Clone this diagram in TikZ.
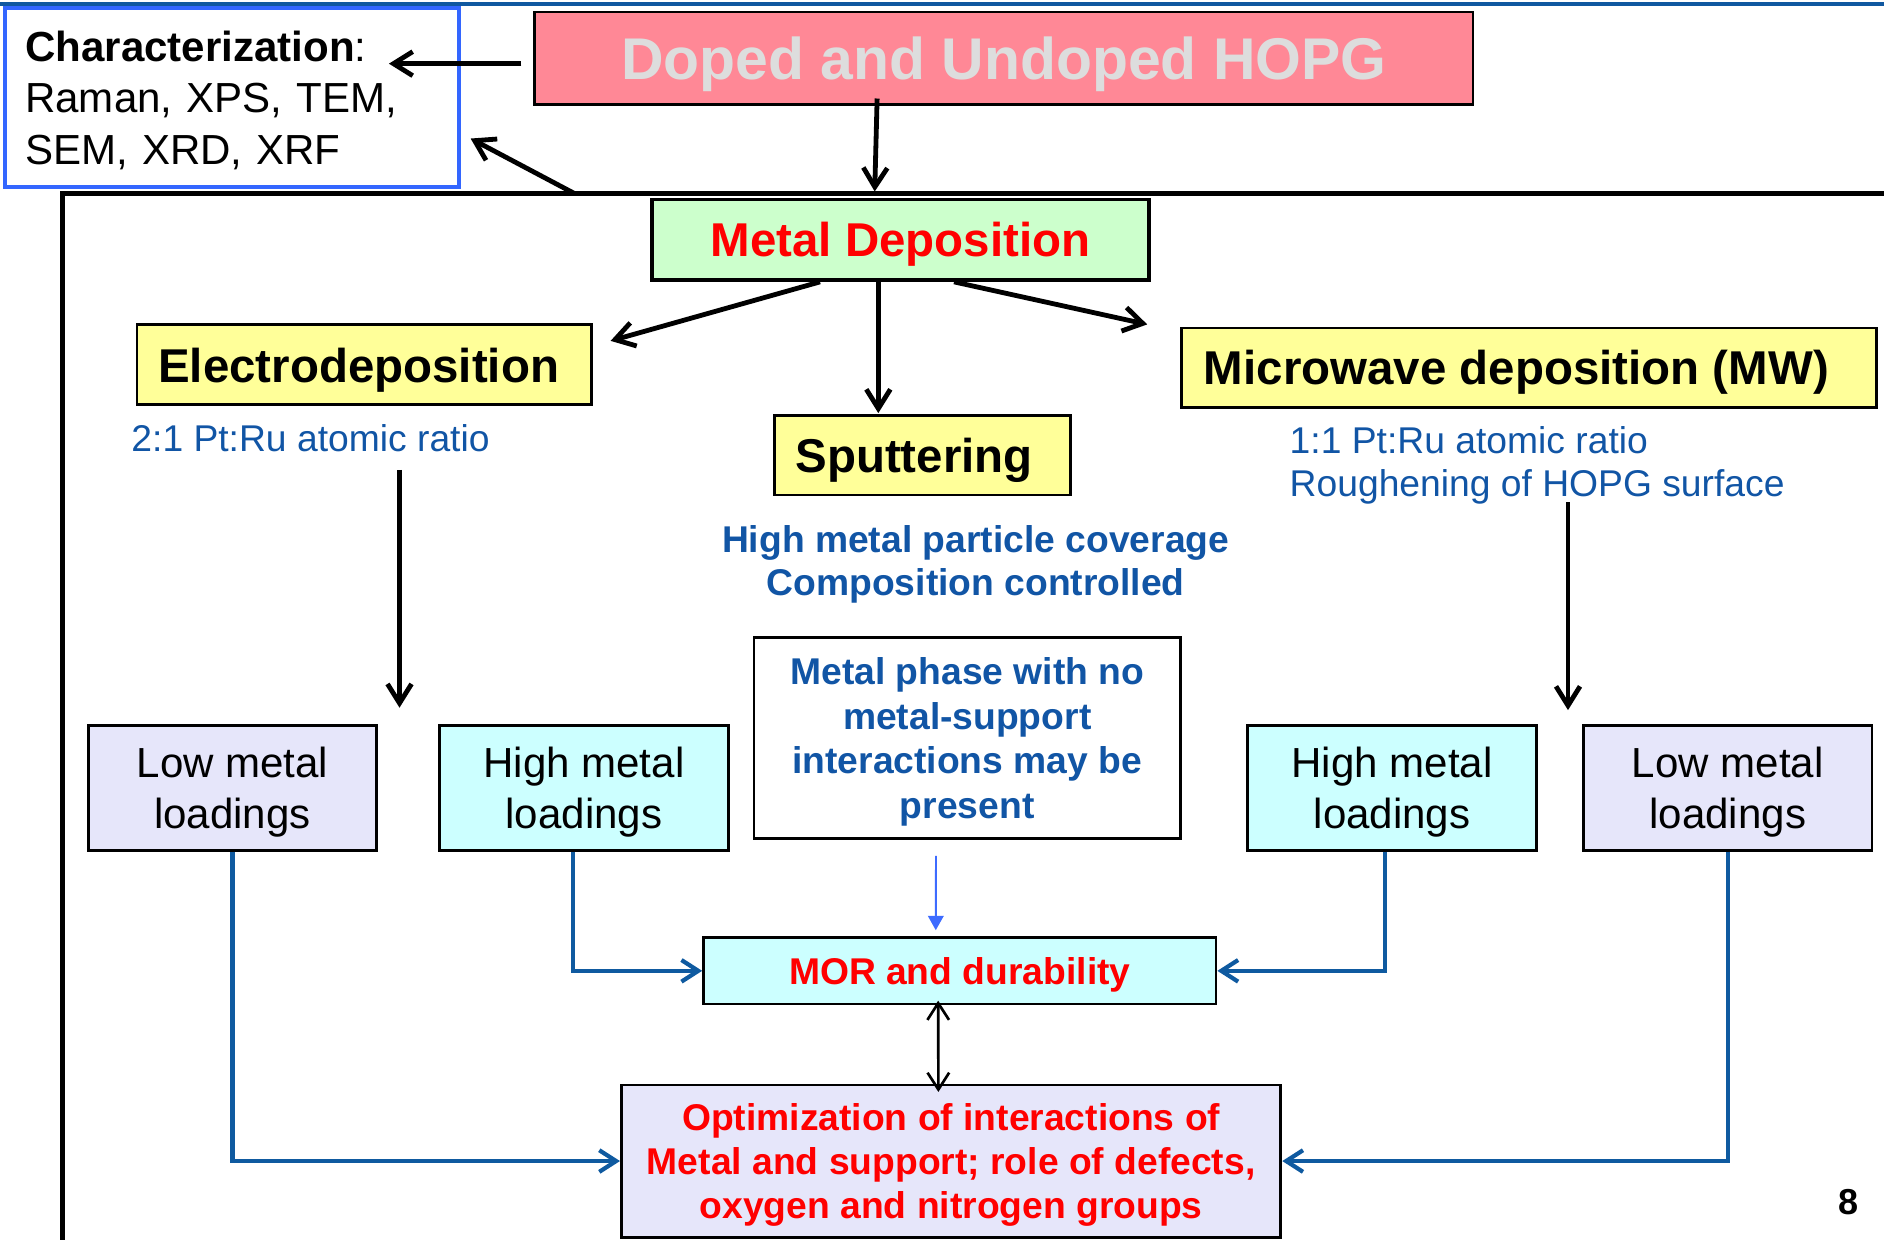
\documentclass[tikz,border=0pt]{standalone}
\usepackage{fontspec}
\setmainfont{Liberation Sans}
\usetikzlibrary{arrows.meta,calc}
\definecolor{topblue}{RGB}{16,88,160}
\definecolor{charblue}{RGB}{51,102,255}
\definecolor{pinkc}{RGB}{255,136,150}
\definecolor{dopedtext}{RGB}{221,221,221}
\definecolor{greenc}{RGB}{204,255,204}
\definecolor{yellowc}{RGB}{255,255,153}
\definecolor{cyanc}{RGB}{204,255,255}
\definecolor{lavc}{RGB}{230,230,250}
\definecolor{textblue}{RGB}{17,85,165}
\definecolor{connblue}{RGB}{15,90,160}
\definecolor{thinblue}{RGB}{61,107,255}
\definecolor{redc}{RGB}{255,0,0}
\begin{document}
\begin{tikzpicture}[x=0.5pt,y=-0.5pt,
  box/.style={draw=black, line width=1.2pt, inner sep=0pt, align=center},
  onel/.style={text depth=0pt},
  bigb/.style={font=\fontsize{19.75}{24}\selectfont\bfseries},
  medb/.style={font=\fontsize{15.5}{18.5}\selectfont\bfseries},
  loadf/.style={font=\fontsize{17.5}{21}\selectfont},
  blacc/.style={line width=2pt, -{Straight Barb[length=8pt,width=10pt]}},
  bluecc/.style={draw=connblue, line width=1.75pt, -{Straight Barb[length=7pt,width=9pt]}},
  loadbox/.style={box, minimum width=120pt, minimum height=51.8pt, loadf}]
\useasboundingbox (0,0) rectangle (1568,1031.2);
% decorative lines
\draw[topblue, line width=1.7pt] (0,3.5) -- (1568,3.5);
\draw[line width=1.8pt] (52,1040) -- (52,161) -- (1575,161);
\coordinate (fa) at (478,161);
\coordinate (e1s) at (332.5,391);
\coordinate (e1t) at (332.5,589);
\coordinate (e2s) at (1305,418);
\coordinate (e2t) at (1305,591);
% boxes
\node[box, draw=charblue, fill=white, line width=1.7pt, minimum width=189pt, minimum height=74.7pt,
  text width=172pt, inner xsep=8.5pt, align=left, font=\fontsize{17.5}{21.5}\selectfont] (char) at (193,81.3)
  {\textbf{Characterization}:\\ Raman, XPS, TEM,\\ \smash{SEM, XRD, XRF}};
\node[box, fill=pinkc, line width=1pt, minimum width=390.5pt, minimum height=38.5pt, onel,
  font=\fontsize{24.5}{29}\selectfont\bfseries, text=dopedtext] (doped) at (835.5,48.5) {Doped and Undoped HOPG};
\node[box, fill=greenc, line width=1.6pt, minimum width=207pt, minimum height=33.5pt, onel, bigb, text=redc]
  (md) at (749.5,199.5) {Metal Deposition};
\node[box, fill=yellowc, minimum width=189pt, minimum height=33.3pt, onel, bigb] (el) at (303,303.7)
  {Electrodeposition\hspace*{4.5pt}};
\node[box, fill=yellowc, minimum width=123.3pt, minimum height=33pt, onel, bigb] (sp) at (768,379)
  {Sputtering\hspace*{7.3pt}};
\node[box, fill=yellowc, minimum width=289.5pt, minimum height=33pt, onel, bigb] (mw) at (1272.5,306)
  {Microwave deposition (MW)\hspace*{10.5pt}};
\node[box, fill=white, minimum width=177.5pt, minimum height=83.4pt, medb, text=textblue] (ph) at (805,614.2)
  {Metal phase with no\\ metal-support\\ interactions may be\\ \smash{present}};
\node[loadbox, fill=lavc] (lowL) at (193.5,655.7) {Low metal\\ \smash{loadings}};
\node[loadbox, fill=cyanc] (highL) at (486,655.7) {High metal\\ \smash{loadings}};
\node[loadbox, fill=cyanc] (highR) at (1158.5,655.7) {High metal\\ \smash{loadings}};
\node[loadbox, fill=lavc] (lowR) at (1438,655.7) {Low metal\\ \smash{loadings}};
\node[box, fill=cyanc, minimum width=213.2pt, minimum height=27.6pt, onel, medb, text=redc] (mor) at (798.8,808)
  {MOR and durability};
\node[box, fill=lavc, minimum width=274.4pt, minimum height=63.3pt, medb, text=redc] (opt) at (791.6,966.3)
  {Optimization of interactions of\\ Metal and support; role of defects,\\ \smash{oxygen and nitrogen groups}};
% free texts
\node[anchor=base west, inner sep=0pt, font=\fontsize{15.5}{18}\selectfont, text=textblue] (r1) at (109,376)
  {2:1 Pt:Ru atomic ratio};
\node[anchor=north west, inner sep=0pt, align=left, font=\fontsize{15.5}{18.1}\selectfont, text=textblue] (r2)
  at (1073,354.5) {1:1 Pt:Ru atomic ratio\\ Roughening of HOPG surface};
\node[anchor=north, inner sep=0pt, align=center, font=\fontsize{15.5}{17.8}\selectfont\bfseries, text=textblue] (cov)
  at (812,437) {High metal particle coverage\\ Composition controlled};
\node[anchor=base, inner sep=0pt, font=\fontsize{15}{18}\selectfont\bfseries] (pg) at (1538.5,1011) {8};
% black connectors
\draw[blacc] ($(doped.west)+(-10,4.5)$) -- ($(char.east)+(-60,-28.3)$);
\draw[blacc] ($(doped.south)+(-105.5,-6)$) -- ($(md.north)+(-21.5,-5)$);
\draw[blacc] (fa) -- ($(char.east)+(8,34)$);
\draw[blacc] ($(md.south)+(-67,0)$) -- ($(el.east)+(15,-20)$);
\draw[blacc] ($(md.south)+(-18.5,-2)$) -- ($(sp.north)+(-37,-1)$);
\draw[blacc] ($(md.south)+(44.5,0)$) -- ($(mw.west)+(-27,-36)$);
\draw[blacc] (e1s) -- (e1t);
\draw[blacc] (e2s) -- (e2t);
% blue connectors
\draw[bluecc] (lowL.south) |- (opt.west);
\draw[bluecc] ($(highL.south)+(-9,0)$) |- (mor.west);
\draw[bluecc] ($(highR.south)+(-6,0)$) |- (mor.east);
\draw[bluecc] (lowR.south) |- (opt.east);
\draw[line width=1.1pt, {Straight Barb[length=7pt,width=9pt]}-{Straight Barb[length=7pt,width=9pt]}]
  ($(mor.south)+(-18,-4)$) -- ($(opt.north)+(-10.6,7)$);
\draw[thinblue, line width=0.8pt, -{Triangle[length=6pt,width=6.5pt]}]
  ($(ph.south)+(-26,13.5)$) -- ($(mor.north)+(-20,-5)$);
\end{tikzpicture}
\end{document}
